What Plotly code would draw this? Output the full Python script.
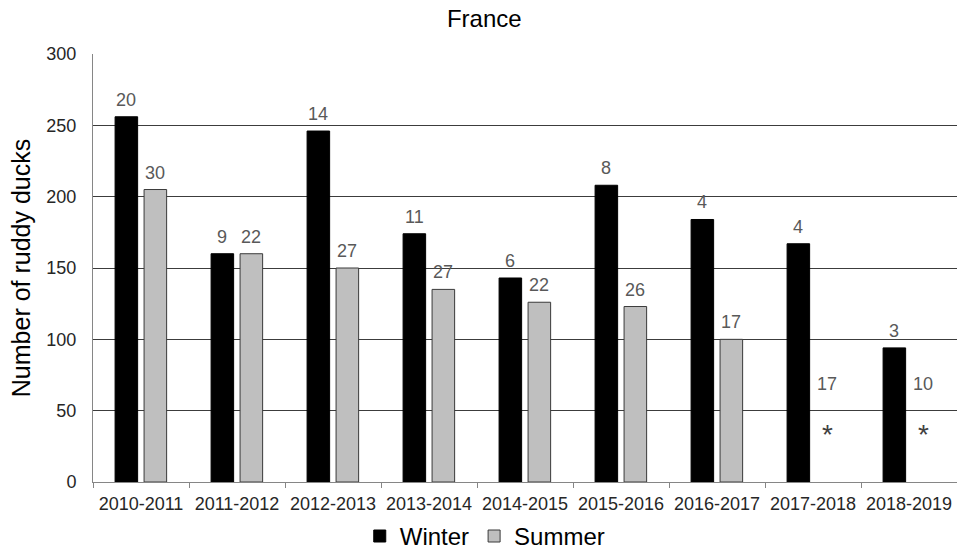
import plotly.graph_objects as go

# Ruddy duck counts in France per season
seasons = ["2010-2011", "2011-2012", "2012-2013", "2013-2014", "2014-2015",
           "2015-2016", "2016-2017", "2017-2018", "2018-2019"]
winter = [256, 160, 246, 174, 143, 208, 184, 167, 94]
summer = [205, 160, 150, 135, 126, 123, 100, None, None]
# Numbers shown above each bar
winter_n = [20, 9, 14, 11, 6, 8, 4, 4, 3]
summer_n = [30, 22, 27, 27, 22, 26, 17, 17, 10]
# Height used for the labels of seasons without a summer count
missing_label_y = 60
missing_mark_y = 37

BAR_W = 0.235
W_OFF = -0.27
S_OFF = 0.032
FONT = "Liberation Sans, Arial"

fig = go.Figure()
fig.add_trace(go.Bar(
    name="Winter", x=seasons, y=winter,
    width=BAR_W, offset=W_OFF,
    marker=dict(color="#000000", line=dict(color="#000000", width=1)),
))
fig.add_trace(go.Bar(
    name="Summer", x=seasons, y=summer,
    width=BAR_W, offset=S_OFF,
    marker=dict(color="#bfbfbf", line=dict(color="#3a3a3a", width=1)),
))

lab_font = dict(family=FONT, size=18, color="#595959")
annotations = []
for i, (w, s, wn, sn) in enumerate(zip(winter, summer, winter_n, summer_n)):
    annotations.append(dict(x=i + W_OFF + BAR_W / 2, y=w, text=str(wn),
                            showarrow=False, yanchor="bottom", yshift=5,
                            font=lab_font))
    if s is None:
        annotations.append(dict(x=i + S_OFF + BAR_W / 2, y=missing_label_y,
                                text=str(sn), showarrow=False,
                                yanchor="bottom", font=lab_font))
        annotations.append(dict(x=i + S_OFF + BAR_W / 2, y=missing_mark_y,
                                text="*", showarrow=False, yanchor="middle",
                                font=dict(family=FONT, size=28, color="#404040"),
                                yshift=-5))
    else:
        annotations.append(dict(x=i + S_OFF + BAR_W / 2, y=s, text=str(sn),
                                showarrow=False, yanchor="bottom", yshift=5,
                                font=lab_font))

fig.update_layout(
    width=957, height=553,
    margin=dict(l=93, r=0, t=54, b=71, autoexpand=False),
    paper_bgcolor="white", plot_bgcolor="white",
    barmode="overlay",
    font=dict(family=FONT, color="#262626"),
    title=dict(text="France", x=0.506, xref="container", xanchor="center",
               y=0.967, yref="container", yanchor="middle",
               font=dict(size=24, color="#000000")),
    xaxis=dict(
        type="category", range=[-0.5, len(seasons) - 0.5],
        tickson="boundaries", ticks="outside", ticklen=5, tickcolor="#868686",
        showgrid=False, showline=True, linecolor="#868686",
        linewidth=1, tickfont=dict(size=18, color="#262626"),
        zeroline=False, ticklabelstandoff=5, automargin=False,
    ),
    yaxis=dict(
        range=[0, 300], dtick=50, showgrid=True, gridcolor="#3c3c3c",
        gridwidth=1, showline=True, linecolor="#868686", linewidth=1,
        ticks="", zeroline=False, tickfont=dict(size=18, color="#262626"),
        ticklabelstandoff=12, automargin=False,
        title=dict(text="Number of ruddy ducks", font=dict(size=25, color="#000000"),
                   standoff=8),
    ),
    legend=dict(orientation="h", x=0.454, xanchor="center",
                yref="container", y=0.03, yanchor="middle",
                font=dict(size=24, color="#000000"),
                itemwidth=30, traceorder="normal"),
    annotations=annotations,
    showlegend=True,
)

fig.write_html("out.html")
